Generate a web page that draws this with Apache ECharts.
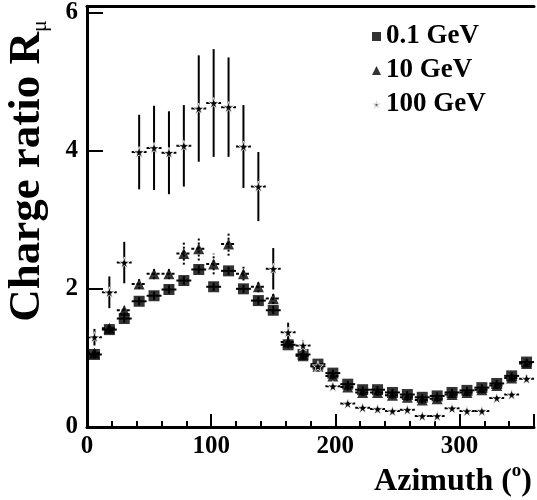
<!DOCTYPE html>
<html>
<head>
<meta charset="utf-8">
<script src="https://cdn.jsdelivr.net/npm/echarts@6/dist/echarts.min.js"></script>
<style>
  html, body { margin: 0; padding: 0; background: #fff; }
  #main { width: 537px; height: 500px; }
</style>
</head>
<body>
<div id="main"></div>
<script>
// bin centres (degrees), each bin is 12 deg wide
var azimuth = [6, 18, 30, 42, 54, 66, 78, 90, 102, 114, 126, 138, 150, 162, 174,
               186, 198, 210, 222, 234, 246, 258, 270, 282, 294, 306, 318, 330, 342, 354];
var halfBin = 6;

// 0.1 GeV (squares)
var r01 = [1.05, 1.41, 1.57, 1.82, 1.90, 1.99, 2.12, 2.28, 2.03, 2.26, 2.00, 1.83, 1.69, 1.19, 1.05,
           0.91, 0.78, 0.62, 0.54, 0.54, 0.50, 0.47, 0.43, 0.45, 0.50, 0.53, 0.57, 0.63, 0.74, 0.94];
var e01 = [0.06, 0.06, 0.06, 0.06, 0.06, 0.06, 0.06, 0.06, 0.06, 0.06, 0.06, 0.06, 0.06, 0.05, 0.05,
           0.05, 0.05, 0.05, 0.05, 0.05, 0.05, 0.05, 0.05, 0.05, 0.05, 0.05, 0.05, 0.05, 0.05, 0.05];

// 10 GeV (triangles)
var r10 = [1.07, 1.43, 1.69, 2.07, 2.22, 2.22, 2.51, 2.58, 2.36, 2.65, 2.22, 2.03, 1.86, 1.23, 1.03,
           0.88, 0.74, 0.58, 0.50, 0.50, 0.46, 0.43, 0.39, 0.41, 0.47, 0.50, 0.54, 0.60, 0.71, 0.92];
var e10 = [0.05, 0.05, 0.06, 0.07, 0.08, 0.08, 0.16, 0.17, 0.15, 0.17, 0.10, 0.08, 0.08, 0.07, 0.05,
           0.05, 0.05, 0.05, 0.05, 0.05, 0.05, 0.05, 0.05, 0.05, 0.05, 0.05, 0.05, 0.05, 0.05, 0.05];

// 100 GeV (stars)
var r100 = [1.30, 1.95, 2.38, 3.98, 4.04, 3.97, 4.07, 4.61, 4.69, 4.63, 4.06, 3.48, 2.29, 1.37, 1.18,
            0.88, 0.59, 0.34, 0.28, 0.26, 0.23, 0.25, 0.16, 0.16, 0.27, 0.23, 0.23, 0.42, 0.47, 0.70];
var e100 = [0.12, 0.23, 0.30, 0.54, 0.61, 0.60, 0.59, 0.77, 0.78, 0.72, 0.60, 0.50, 0.30, 0.14, 0.08,
            0.05, 0.04, 0.03, 0.03, 0.03, 0.03, 0.03, 0.03, 0.03, 0.03, 0.03, 0.03, 0.03, 0.03, 0.05];

var xTicks = [0, 100, 200, 300];
var yTicks = [0, 2, 4, 6];

var starPath = 'path://M50,0 L61,35 L98,35 L68,57 L79,91 L50,70 L21,91 L32,57 L2,35 L39,35 Z';
var font = 'Liberation Serif';

function pts(vals) {
    return azimuth.map(function (a, i) { return [a, vals[i]]; });
}
function errs(vals, e) {
    return azimuth.map(function (a, i) { return [a, vals[i], e[i]]; });
}

function errorBars(vDash, hDash) {
    return function (params, api) {
        var x = api.value(0), y = api.value(1), e = api.value(2);
        var lo = api.coord([x, y - e]);
        var hi = api.coord([x, y + e]);
        var l = api.coord([x - halfBin, y]);
        var r = api.coord([x + halfBin, y]);
        return {
            type: 'group',
            children: [
                { type: 'line', shape: { x1: lo[0], y1: lo[1], x2: hi[0], y2: hi[1] },
                  style: { stroke: '#000', lineWidth: 2, lineDash: vDash } },
                { type: 'line', shape: { x1: l[0], y1: l[1], x2: r[0], y2: r[1] },
                  style: { stroke: '#000', lineWidth: 2, lineDash: hDash } }
            ]
        };
    };
}

var myChart = echarts.init(document.getElementById('main'));

var option = {
    animation: false,
    backgroundColor: '#fff',
    grid: { left: 87, right: 0, top: 5, bottom: 73 },
    legend: {
        orient: 'vertical',
        left: 366,
        top: 18,
        itemGap: 7,
        itemWidth: 9,
        itemHeight: 9,
        data: ['0.1 GeV', '10 GeV', '100 GeV'],
        textStyle: { fontFamily: font, fontWeight: 'bold', fontSize: 27, color: '#000' }
    },
    xAxis: [{
        type: 'value',
        min: 0,
        max: 360,
        interval: 100,
        axisLine: { lineStyle: { color: '#000', width: 3 } },
        axisTick: { inside: true, length: 13, lineStyle: { color: '#000', width: 2 } },
        minorTick: { show: true, splitNumber: 5, length: 6, lineStyle: { color: '#000', width: 2 } },
        splitLine: { show: false },
        axisLabel: {
            margin: 7,
            fontFamily: font, fontWeight: 'bold', fontSize: 25, color: '#000',
            formatter: function (v) { return xTicks.indexOf(v) >= 0 ? v : ''; }
        }
    }, {
        type: 'value',
        position: 'top',
        min: 0,
        max: 360,
        axisLine: { show: true, lineStyle: { color: '#000', width: 3 } },
        axisTick: { show: false },
        axisLabel: { show: false },
        splitLine: { show: false }
    }],
    yAxis: {
        type: 'value',
        min: 0,
        max: 6.09,
        interval: 2,
        axisLine: { lineStyle: { color: '#000', width: 3 } },
        axisTick: { inside: true, length: 16, lineStyle: { color: '#000', width: 2 } },
        splitLine: { show: false },
        axisLabel: {
            margin: 9,
            fontFamily: font, fontWeight: 'bold', fontSize: 25, color: '#000',
            formatter: function (v) { return yTicks.indexOf(v) >= 0 ? v : ''; }
        }
    },
    graphic: [{
        type: 'text',
        x: 27,
        y: 171,
        rotation: Math.PI / 2,
        style: {
            text: '{a|Charge ratio R}{b|μ}',
            align: 'center',
            verticalAlign: 'middle',
            rich: {
                a: { fontFamily: font, fontWeight: 'bold', fontSize: 45, fill: '#000', lineHeight: 48 },
                b: { fontFamily: font, fontSize: 22, fill: '#000', verticalAlign: 'bottom', lineHeight: 48, padding: [16, 0, 0, 0] }
            }
        }
    }, {
        type: 'text',
        right: 5,
        top: 462,
        style: {
            text: '{a|Azimuth (}{s|o}{a|)}',
            rich: {
                a: { fontFamily: font, fontWeight: 'bold', fontSize: 32, fill: '#000', lineHeight: 36, verticalAlign: 'bottom' },
                s: { fontFamily: font, fontWeight: 'bold', fontSize: 19, fill: '#000', lineHeight: 36, verticalAlign: 'top' }
            }
        }
    }],
    series: [
        { type: 'custom', renderItem: errorBars(null, null), data: errs(r01, e01), z: 3, silent: true },
        { type: 'custom', renderItem: errorBars([2, 2], [3, 2]), data: errs(r10, e10), z: 3, silent: true },
        { type: 'custom', renderItem: errorBars(null, [4, 2]), data: errs(r100, e100), z: 3, silent: true },
        { name: '10 GeV', type: 'scatter', symbol: 'triangle', symbolSize: 11,
          itemStyle: { color: '#000' }, data: pts(r10), z: 4 },
        { name: '0.1 GeV', type: 'scatter', symbol: 'rect', symbolSize: 11,
          itemStyle: { color: '#000' }, data: pts(r01), z: 5 },
        { name: '100 GeV', type: 'scatter', symbol: starPath, symbolSize: 11,
          itemStyle: { color: '#000', borderColor: '#fff', borderWidth: 1 }, data: pts(r100), z: 6 }
    ]
};

myChart.setOption(option);
</script>
</body>
</html>
